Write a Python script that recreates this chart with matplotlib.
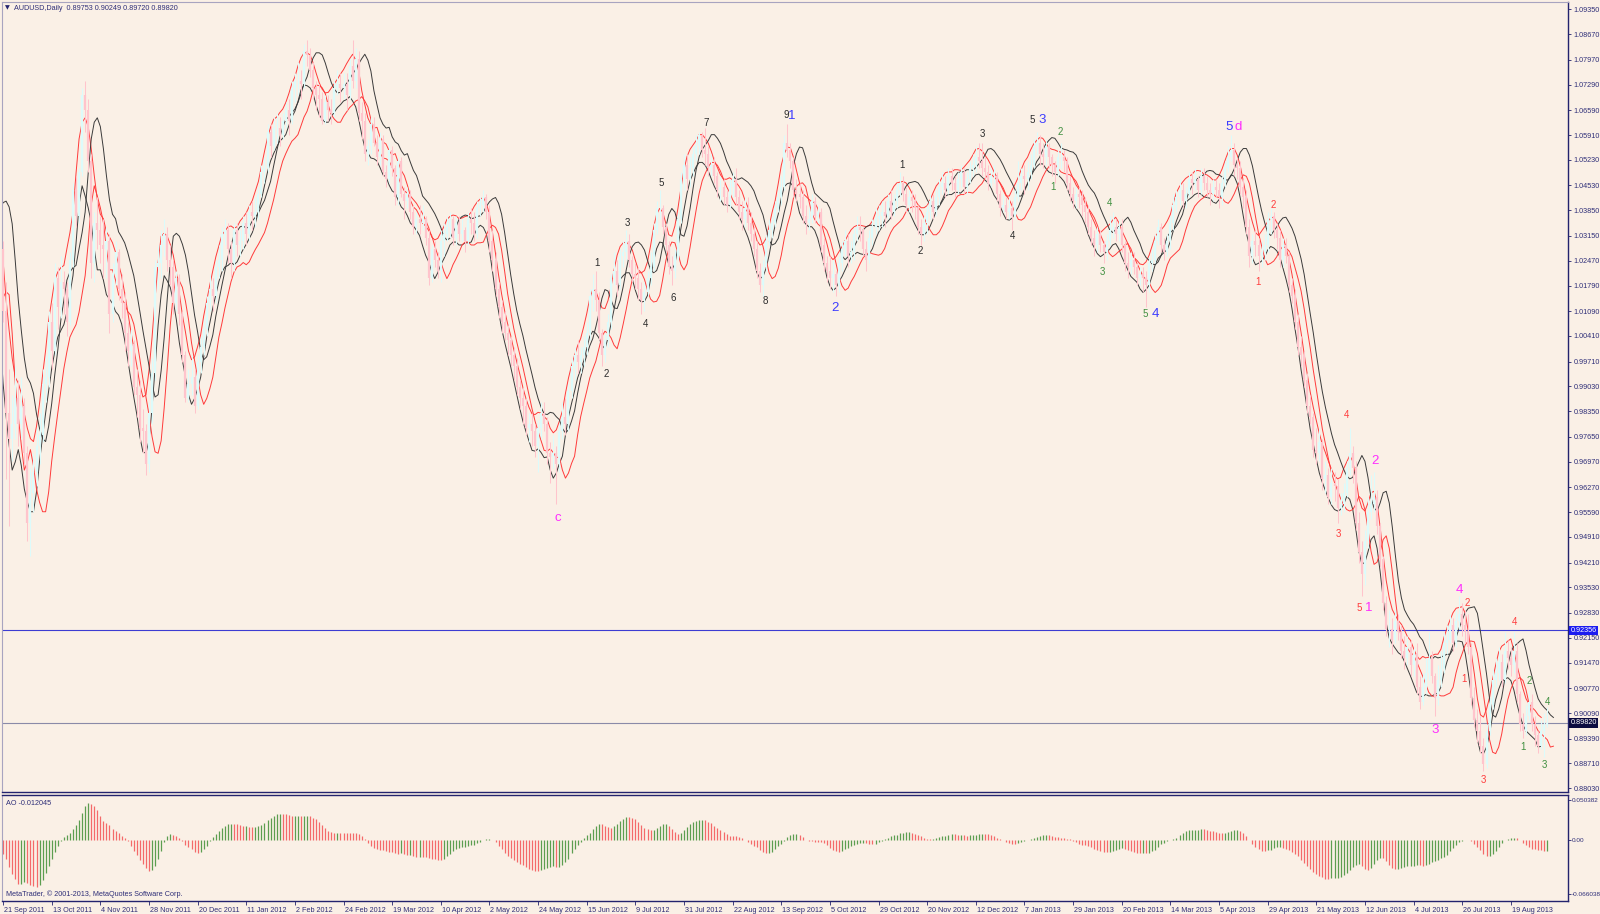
import numpy as np
import pandas as pd
import matplotlib
matplotlib.use("Agg")
import matplotlib.pyplot as plt
import matplotlib.transforms as mtransforms

# AUDUSD daily bars, prices in pips (x 0.0001)
# first 34 bars (4 Aug - 20 Sep 2011) are off screen, the AO and the averages need them
n_pre = 34

close = [
    10430, 10390, 10240, 10350, 10200, 10330, 10400, 10480, 10470, 10530, 10420, 10450, 10470, 10560, 10490, 10480, 10600,
    10650, 10660, 10720, 10640, 10620, 10560, 10600, 10660, 10580, 10290, 10230, 10300, 10340, 10390, 10410, 10330, 10280,
    # 21 Sep 2011 ->
    10110, 9830, 9760, 9800, 9870, 9800, 9850, 9720, 9530, 9610, 9670, 9740, 9770, 9910, 9930, 10080,
    10000, 10200, 10120, 10190, 10170, 10080, 10250, 10440, 10370, 10490, 10700, 10660, 10520, 10240, 10350, 10330,
    10290, 10280, 10300, 10100, 10210, 10270, 10170, 10130, 10050, 10000, 10020, 9900, 9880, 9790, 9780, 9690,
    9830, 9940, 10230, 10240, 10290, 10320, 10250, 10230, 10130, 10200, 10100, 9990, 9870, 9910, 9930, 9850,
    9970, 10010, 10060, 10130, 10170, 10150, 10230, 10250, 10320, 10330, 10280, 10240, 10330, 10290, 10300, 10350,
    10320, 10380, 10370, 10380, 10430, 10490, 10500, 10600, 10560, 10610, 10610, 10590, 10630, 10660, 10630, 10720,
    10740, 10740, 10730, 10820, 10810, 10770, 10720, 10700, 10690, 10630, 10680, 10660, 10650, 10720, 10730, 10720,
    10730, 10700, 10780, 10740, 10800, 10650, 10630, 10540, 10560, 10620, 10570, 10530, 10580, 10490, 10470, 10550,
    10500, 10420, 10520, 10430, 10410, 10430, 10380, 10340, 10360, 10350, 10360, 10310, 10200, 10280, 10250, 10220,
    10300, 10320, 10340, 10360, 10310, 10350, 10320, 10330, 10300, 10360, 10350, 10320, 10390, 10400, 10420, 10380,
    10300, 10250, 10170, 10120, 10080, 10050, 10030, 9990, 9960, 9900, 9870, 9850, 9790, 9800, 9780, 9740,
    9790, 9830, 9800, 9720, 9710, 9720, 9690, 9780, 9820, 9800, 9890, 9960, 9990, 9970, 9990, 10010,
    10050, 10150, 10170, 10140, 10050, 9990, 10030, 10080, 10200, 10220, 10180, 10260, 10270, 10300, 10250, 10210,
    10200, 10170, 10140, 10160, 10200, 10230, 10330, 10390, 10390, 10340, 10290, 10230, 10220, 10260, 10360, 10470,
    10510, 10470, 10500, 10540, 10560, 10590, 10550, 10540, 10500, 10510, 10480, 10440, 10450, 10420, 10400, 10450,
    10470, 10420, 10380, 10360, 10390, 10350, 10320, 10280, 10220, 10180, 10230, 10300, 10330, 10350, 10390, 10420,
    10450, 10570, 10550, 10520, 10440, 10430, 10420, 10370, 10350, 10360, 10410, 10370, 10380, 10290, 10240, 10220,
    10200, 10210, 10180, 10240, 10280, 10300, 10260, 10270, 10320, 10340, 10330, 10280, 10250, 10310, 10340, 10360,
    10370, 10380, 10370, 10410, 10380, 10410, 10440, 10460, 10430, 10400, 10420, 10410, 10390, 10340, 10320, 10350,
    10380, 10410, 10380, 10420, 10450, 10460, 10440, 10480, 10460, 10440, 10470, 10490, 10450, 10470, 10500, 10510,
    10530, 10520, 10500, 10490, 10460, 10480, 10480, 10430, 10390, 10400, 10380, 10390, 10370, 10420, 10460, 10480,
    10470, 10490, 10510, 10560, 10570, 10540, 10530, 10560, 10530, 10510, 10490, 10530, 10530, 10520, 10460, 10430,
    10410, 10430, 10420, 10400, 10380, 10340, 10310, 10290, 10320, 10290, 10270, 10300, 10330, 10340, 10320, 10340,
    10290, 10240, 10230, 10250, 10230, 10200, 10210, 10200, 10180, 10240, 10250, 10300, 10340, 10290, 10270, 10300,
    10350, 10400, 10420, 10440, 10410, 10430, 10470, 10460, 10470, 10440, 10480, 10460, 10440, 10430, 10450, 10440,
    10420, 10460, 10500, 10530, 10550, 10510, 10500, 10450, 10420, 10340, 10260, 10300, 10290, 10260, 10270, 10290,
    10360, 10370, 10330, 10310, 10250, 10290, 10260, 10180, 10150, 10080, 10010, 9990, 9920, 9850, 9820, 9730,
    9720, 9750, 9650, 9660, 9600, 9640, 9630, 9570, 9580, 9610, 9680, 9720, 9680, 9530, 9450, 9390,
    9480, 9560, 9580, 9600, 9520, 9430, 9310, 9240, 9240, 9210, 9260, 9230, 9180, 9160, 9190, 9140,
    9170, 9080, 9040, 9080, 9120, 9160, 9110, 9050, 9100, 9130, 9200, 9210, 9250, 9200, 9260, 9280,
    9250, 9230, 9190, 9050, 8990, 8960, 8920, 8870, 8960, 9030, 9100, 9120, 9150, 9100, 9180, 9160,
    9140, 9180, 9060, 8980, 8960, 9000, 9040, 8980, 8950, 8920, 8960, 8975, 8982,
]

high = [
    10620, 10520, 10420, 10390, 10410, 10360, 10440, 10510, 10540, 10590, 10550, 10490, 10520, 10600, 10590, 10560, 10630,
    10690, 10700, 10760, 10750, 10690, 10640, 10620, 10700, 10710, 10600, 10310, 10360, 10380, 10420, 10450, 10420, 10380,
    10300, 10190, 9950, 9880, 9960, 9920, 9930, 9870, 9740, 9680, 9720, 9790, 9830, 9950, 9990, 10110,
    10130, 10240, 10230, 10260, 10220, 10190, 10270, 10460, 10480, 10500, 10720, 10740, 10690, 10540, 10380, 10420,
    10370, 10360, 10340, 10320, 10240, 10300, 10280, 10210, 10160, 10080, 10060, 10030, 9950, 9920, 9840, 9800,
    9860, 9980, 10250, 10290, 10330, 10360, 10340, 10290, 10250, 10220, 10210, 10110, 10000, 9950, 9990, 9950,
    9990, 10040, 10090, 10150, 10210, 10200, 10250, 10290, 10340, 10360, 10350, 10300, 10350, 10350, 10330, 10370,
    10380, 10400, 10410, 10420, 10450, 10510, 10530, 10620, 10620, 10640, 10650, 10640, 10650, 10680, 10690, 10740,
    10760, 10790, 10770, 10840, 10850, 10830, 10790, 10740, 10730, 10710, 10700, 10700, 10690, 10740, 10770, 10760,
    10760, 10760, 10800, 10850, 10830, 10820, 10680, 10650, 10580, 10640, 10640, 10590, 10600, 10590, 10510, 10570,
    10560, 10510, 10530, 10530, 10450, 10450, 10440, 10400, 10380, 10400, 10400, 10370, 10330, 10290, 10300, 10270,
    10330, 10350, 10370, 10380, 10370, 10370, 10370, 10360, 10340, 10380, 10390, 10380, 10410, 10420, 10440, 10430,
    10400, 10330, 10270, 10190, 10140, 10110, 10070, 10040, 10010, 9980, 9920, 9900, 9870, 9830, 9830, 9800,
    9810, 9860, 9860, 9820, 9750, 9770, 9740, 9800, 9860, 9870, 9910, 9980, 10010, 10030, 10010, 10040,
    10080, 10170, 10210, 10220, 10160, 10060, 10050, 10100, 10210, 10270, 10250, 10280, 10300, 10330, 10320, 10260,
    10240, 10230, 10190, 10190, 10220, 10270, 10350, 10410, 10440, 10400, 10350, 10300, 10260, 10280, 10380, 10490,
    10540, 10540, 10530, 10560, 10590, 10600, 10600, 10610, 10560, 10540, 10530, 10490, 10480, 10470, 10440, 10470,
    10490, 10500, 10440, 10410, 10420, 10420, 10380, 10340, 10300, 10240, 10250, 10320, 10360, 10370, 10410, 10440,
    10480, 10590, 10620, 10570, 10530, 10470, 10460, 10440, 10400, 10390, 10430, 10420, 10400, 10390, 10310, 10260,
    10260, 10250, 10220, 10260, 10300, 10330, 10320, 10300, 10340, 10370, 10370, 10340, 10300, 10330, 10360, 10390,
    10400, 10410, 10410, 10430, 10440, 10430, 10460, 10490, 10480, 10450, 10440, 10440, 10430, 10400, 10360, 10370,
    10400, 10430, 10430, 10440, 10470, 10490, 10480, 10500, 10500, 10480, 10490, 10510, 10500, 10490, 10520, 10540,
    10560, 10570, 10570, 10530, 10510, 10500, 10510, 10490, 10440, 10430, 10420, 10420, 10410, 10440, 10520, 10500,
    10510, 10520, 10540, 10580, 10600, 10590, 10570, 10580, 10570, 10540, 10520, 10550, 10570, 10550, 10530, 10480,
    10450, 10450, 10450, 10440, 10420, 10400, 10360, 10330, 10340, 10330, 10300, 10320, 10370, 10380, 10360, 10360,
    10360, 10300, 10270, 10270, 10270, 10240, 10230, 10230, 10220, 10260, 10280, 10320, 10360, 10350, 10310, 10320,
    10370, 10430, 10440, 10470, 10460, 10450, 10490, 10490, 10500, 10480, 10500, 10500, 10480, 10460, 10470, 10470,
    10460, 10480, 10520, 10560, 10590, 10570, 10530, 10520, 10470, 10440, 10360, 10320, 10330, 10310, 10300, 10320,
    10380, 10390, 10380, 10350, 10330, 10310, 10310, 10270, 10200, 10170, 10100, 10040, 10000, 9940, 9880, 9830,
    9790, 9790, 9760, 9700, 9680, 9680, 9670, 9650, 9610, 9640, 9700, 9790, 9740, 9700, 9560, 9480,
    9510, 9600, 9660, 9670, 9620, 9530, 9440, 9330, 9290, 9270, 9290, 9280, 9250, 9220, 9220, 9210,
    9190, 9200, 9110, 9120, 9160, 9230, 9180, 9120, 9140, 9180, 9230, 9250, 9280, 9270, 9290, 9330,
    9310, 9290, 9280, 9200, 9080, 9020, 9000, 8940, 8980, 9050, 9130, 9160, 9190, 9170, 9230, 9210,
    9190, 9230, 9200, 9070, 9010, 9030, 9070, 9060, 9000, 8960, 8990, 9010, 9025,
]

low = [
    10400, 10330, 10180, 10050, 10170, 10150, 10290, 10380, 10420, 10450, 10340, 10360, 10410, 10440, 10460, 10440, 10400,
    10580, 10600, 10640, 10620, 10560, 10500, 10420, 10580, 10550, 10270, 10120, 10080, 10120, 10180, 10200, 10150, 10160,
    10080, 9650, 9520, 9700, 9760, 9740, 9760, 9690, 9480, 9440, 9560, 9630, 9690, 9750, 9860, 9900,
    9950, 9990, 10060, 10090, 10100, 10040, 10070, 10230, 10340, 10350, 10480, 10600, 10490, 10200, 10190, 10280,
    10240, 10200, 10200, 10050, 10080, 10180, 10140, 10090, 10000, 9960, 9960, 9880, 9820, 9750, 9720, 9660,
    9670, 9800, 9920, 10170, 10200, 10260, 10220, 10180, 10100, 10110, 10070, 9970, 9860, 9860, 9880, 9830,
    9840, 9940, 9990, 10040, 10110, 10110, 10130, 10200, 10220, 10290, 10240, 10200, 10220, 10260, 10260, 10280,
    10290, 10300, 10330, 10340, 10360, 10420, 10460, 10490, 10530, 10550, 10570, 10560, 10580, 10610, 10590, 10620,
    10680, 10700, 10690, 10720, 10780, 10750, 10690, 10660, 10640, 10620, 10620, 10630, 10620, 10640, 10700, 10680,
    10690, 10660, 10690, 10720, 10720, 10630, 10580, 10520, 10510, 10540, 10560, 10510, 10510, 10480, 10450, 10460,
    10480, 10400, 10400, 10420, 10360, 10390, 10360, 10320, 10320, 10320, 10330, 10290, 10180, 10190, 10230, 10200,
    10190, 10260, 10300, 10310, 10290, 10290, 10300, 10300, 10270, 10290, 10320, 10300, 10310, 10370, 10380, 10360,
    10270, 10220, 10150, 10090, 10050, 10030, 9990, 9960, 9920, 9880, 9840, 9800, 9770, 9750, 9740, 9710,
    9670, 9760, 9780, 9690, 9640, 9680, 9580, 9670, 9760, 9770, 9780, 9870, 9920, 9940, 9940, 9960,
    9990, 10030, 10110, 10110, 10030, 9960, 9970, 10010, 10060, 10180, 10150, 10170, 10230, 10250, 10230, 10190,
    10170, 10140, 10100, 10110, 10150, 10180, 10220, 10320, 10360, 10320, 10270, 10210, 10180, 10200, 10250, 10350,
    10440, 10440, 10450, 10480, 10520, 10540, 10530, 10510, 10480, 10480, 10460, 10420, 10410, 10400, 10380, 10390,
    10420, 10400, 10360, 10330, 10340, 10330, 10300, 10260, 10200, 10160, 10150, 10220, 10290, 10310, 10340, 10380,
    10400, 10440, 10530, 10500, 10420, 10410, 10390, 10350, 10320, 10330, 10350, 10350, 10350, 10270, 10220, 10190,
    10170, 10160, 10150, 10160, 10220, 10260, 10230, 10240, 10250, 10300, 10300, 10260, 10220, 10240, 10290, 10320,
    10330, 10340, 10340, 10360, 10360, 10370, 10390, 10420, 10410, 10380, 10380, 10380, 10360, 10320, 10290, 10300,
    10320, 10360, 10360, 10370, 10400, 10430, 10420, 10430, 10440, 10420, 10430, 10450, 10430, 10430, 10460, 10480,
    10490, 10500, 10480, 10470, 10440, 10450, 10460, 10410, 10370, 10380, 10360, 10360, 10330, 10360, 10410, 10440,
    10430, 10440, 10470, 10500, 10540, 10510, 10500, 10510, 10500, 10480, 10460, 10480, 10500, 10490, 10440, 10410,
    10390, 10390, 10390, 10370, 10350, 10320, 10290, 10260, 10270, 10270, 10240, 10250, 10290, 10310, 10300, 10300,
    10270, 10220, 10200, 10210, 10210, 10180, 10180, 10160, 10120, 10160, 10220, 10240, 10290, 10270, 10250, 10260,
    10280, 10330, 10380, 10400, 10390, 10390, 10420, 10430, 10440, 10420, 10430, 10440, 10420, 10400, 10410, 10420,
    10390, 10400, 10450, 10490, 10520, 10480, 10470, 10430, 10390, 10320, 10230, 10240, 10260, 10220, 10230, 10250,
    10270, 10320, 10310, 10280, 10230, 10230, 10240, 10160, 10130, 10060, 9990, 9960, 9900, 9830, 9800, 9710,
    9690, 9700, 9620, 9610, 9580, 9580, 9590, 9530, 9550, 9560, 9600, 9660, 9640, 9510, 9420, 9330,
    9360, 9460, 9540, 9560, 9500, 9410, 9290, 9220, 9190, 9170, 9200, 9210, 9160, 9130, 9140, 9110,
    9110, 9060, 9020, 9030, 9060, 9100, 9090, 9000, 9030, 9080, 9120, 9170, 9200, 9180, 9190, 9240,
    9220, 9200, 9170, 9030, 8970, 8930, 8900, 8850, 8860, 8950, 9020, 9080, 9100, 9080, 9090, 9130,
    9110, 9120, 9040, 8960, 8940, 8950, 8990, 8960, 8920, 8900, 8910, 8890, 8972,
]

date_labels = ["21 Sep 2011", "13 Oct 2011", "4 Nov 2011", "28 Nov 2011", "20 Dec 2011", "11 Jan 2012",
               "2 Feb 2012", "24 Feb 2012", "19 Mar 2012", "10 Apr 2012", "2 May 2012", "24 May 2012",
               "15 Jun 2012", "9 Jul 2012", "31 Jul 2012", "22 Aug 2012", "13 Sep 2012", "5 Oct 2012",
               "29 Oct 2012", "20 Nov 2012", "12 Dec 2012", "7 Jan 2013", "29 Jan 2013", "20 Feb 2013",
               "14 Mar 2013", "5 Apr 2013", "29 Apr 2013", "21 May 2013", "12 Jun 2013", "4 Jul 2013",
               "26 Jul 2013", "19 Aug 2013"]
bars_per_label = 16

price_labels = ["1.09350", "1.08670", "1.07970", "1.07290", "1.06590", "1.05910", "1.05230", "1.04530",
                "1.03850", "1.03150", "1.02470", "1.01790", "1.01090", "1.00410", "0.99710", "0.99030",
                "0.98350", "0.97650", "0.96970", "0.96270", "0.95590", "0.94910", "0.94210", "0.93530",
                "0.92830", "0.92150", "0.91470", "0.90770", "0.90090", "0.89390", "0.88710", "0.88030"]
ao_labels = ["0.050382", "0.00", "-0.066038"]

hline_blue = 0.92356
hline_bid = 0.89820

# wave counts: (bar, price, text)
wave_black = [(195.4, 1.0242, "1"), (198.4, 0.9938, "2"), (205.5, 1.0351, "3"), (211.2, 1.0075, "4"),
              (216.5, 1.0460, "5"), (220.6, 1.0145, "6"), (231.3, 1.0625, "7"), (250.8, 1.0136, "8"),
              (257.5, 1.0647, "9"), (295.8, 1.0508, "1"), (301.8, 1.0273, "2"), (322.0, 1.0594, "3"),
              (332.0, 1.0315, "4"), (338.7, 1.0633, "5")]
wave_blue = [(259.5, 1.0644, "1"), (273.6, 1.0117, "2"), (341.8, 1.0633, "3"), (379.0, 1.0100, "4"),
             (403.2, 1.0614, "5")]
wave_magenta = [(182.6, 0.9544, "c"), (406.2, 1.0614, "d"), (449.2, 0.9296, "1"), (451.2, 0.9698, "2"),
                (471.0, 0.8964, "3"), (479.1, 0.9346, "4")]
wave_red = [(412.9, 1.0189, "1"), (418.0, 1.0399, "2"), (439.1, 0.9500, "3"), (442.1, 0.9824, "4"),
            (446.2, 0.9296, "5"), (480.7, 0.9103, "1"), (481.7, 0.9310, "2"), (487.1, 0.8827, "3"),
            (497.2, 0.9257, "4")]
wave_green = [(345.4, 1.0449, "1"), (347.8, 1.0600, "2"), (361.6, 1.0217, "3"), (364.0, 1.0404, "4"),
              (375.7, 1.0100, "5"), (499.9, 0.8916, "1"), (502.2, 0.9098, "2"), (506.9, 0.8866, "3"),
              (508.0, 0.9039, "4")]

# ---------------------------------------------------------------
assert len(close) == len(high) == len(low)
c = np.array(close) / 1e4
h = np.array(high) / 1e4
l = np.array(low) / 1e4
o = np.r_[c[0], c[:-1]]          # open = previous close
x = np.arange(len(c)) - n_pre
vis = x >= 0

mh = pd.Series(h).rolling(5).mean().to_numpy()
ml = pd.Series(l).rolling(5).mean().to_numpy()
med = pd.Series((h + l) / 2)
ao = (med.rolling(5).mean() - med.rolling(34).mean()).to_numpy()
ao_up = np.r_[False, ao[1:] > ao[:-1]]

BG = "#faf0e6"
NAVY = "#23236e"
TXT = "#2e2e78"
FONT = ["Liberation Sans", "DejaVu Sans"]
plt.rcParams["font.family"] = FONT

W, H = 1600, 914
fig = plt.figure(figsize=(W / 100, H / 100), dpi=100, facecolor=BG)
ax = fig.add_axes([2 / W, 1 - 792 / H, 1566 / W, 790 / H], facecolor=BG)
ax_ao = fig.add_axes([2 / W, 1 - 901 / H, 1566 / W, 106 / H], facecolor=BG)

xlim = (-0.35, 514.8)

# moving-average bands, leading (shift -2) and lagging (shift +2)
ax.plot(x - 2, mh, color="#ff3a3a", lw=0.7, zorder=2)
ax.plot(x + 2, mh, color="#3a3a3a", lw=0.7, zorder=2)
ax.plot(x - 2, ml, color="#3a3a3a", lw=0.7, zorder=2)
ax.plot(x + 2, ml, color="#ff3a3a", lw=0.7, zorder=2)

# candles
up = c >= o
for m, col in ((vis & up, "#dcfbfb"), (vis & ~up, "#ffc4cc")):
    ax.vlines(x[m], l[m], h[m], color=col, lw=0.75, zorder=3)
    ax.vlines(x[m], np.minimum(o, c)[m], np.maximum(o, c)[m], color=col, lw=1.6, zorder=3)

ax.axhline(hline_blue, color="#3c3cd2", lw=0.8, zorder=1)
ax.axhline(hline_bid, color="#8a8aa8", lw=0.8, zorder=1)

for data, col, size in ((wave_black, "#2b2b2b", 7), (wave_red, "#ff3c3c", 7), (wave_green, "#3f8f3f", 7),
                        (wave_blue, "#3c3cff", 9.5), (wave_magenta, "#ff2cff", 9.5)):
    for bx, py, t in data:
        ax.text(bx, py, t, color=col, fontsize=size, ha="center", va="center", zorder=4)

ax.set_xlim(*xlim)
ax.set_ylim(0.8793, 1.0955)
ax.set_xticks([])
ax.yaxis.tick_right()
ax.set_yticks([float(s) for s in price_labels], price_labels)
ax.tick_params(axis="y", direction="out", length=2.5, width=0.6, color=NAVY,
               labelcolor=TXT, labelsize=5.2, pad=1.5)

trans = mtransforms.blended_transform_factory(ax.transAxes, ax.transData)
ax.text(1.0015, hline_blue, f"{hline_blue:.5f}", transform=trans, color="white", fontsize=5.2,
        va="center", ha="left", clip_on=False, zorder=6,
        bbox=dict(boxstyle="square,pad=0.15", fc="#1c1cf0", ec="none"))
ax.text(1.0015, hline_bid, f"{hline_bid:.5f}", transform=trans, color="white", fontsize=5.2,
        va="center", ha="left", clip_on=False, zorder=6,
        bbox=dict(boxstyle="square,pad=0.15", fc="#0c0c40", ec="none"))

ax.text(0.0022, 0.9955, "\u25bc", transform=ax.transAxes, fontsize=4.5, color=NAVY, va="top",
        family=["DejaVu Sans"])
ax.text(0.0078, 0.9958, "AUDUSD,Daily  0.89753 0.90249 0.89720 0.89820", transform=ax.transAxes,
        fontsize=5.2, color=TXT, va="top")

# Awesome Oscillator
ax_ao.vlines(x[vis], 0, ao[vis], colors=np.where(ao_up[vis], "#5c9e50", "#f46a6a"), lw=0.9)
ax_ao.set_xlim(*xlim)
ax_ao.set_ylim(-0.075, 0.0563)
ax_ao.yaxis.tick_right()
ax_ao.set_yticks([float(s) for s in ao_labels], ao_labels)
ax_ao.tick_params(axis="y", direction="out", length=2.0, width=0.6, color=NAVY,
                  labelcolor=TXT, labelsize=4.6, pad=1.0)
ax_ao.set_xticks(np.arange(len(date_labels)) * bars_per_label, date_labels)
ax_ao.tick_params(axis="x", direction="out", length=3, width=0.6, color=NAVY,
                  labelcolor=TXT, labelsize=5.2, pad=1)
shift = mtransforms.ScaledTranslation(1 / 100, 0, fig.dpi_scale_trans)
for lab in ax_ao.get_xticklabels():
    lab.set_horizontalalignment("left")
    lab.set_transform(lab.get_transform() + shift)

ax_ao.text(0.0025, 0.955, "AO -0.012045", transform=ax_ao.transAxes, fontsize=5.2, color=TXT, va="top")
ax_ao.text(0.0025, 0.03, "MetaTrader, \u00a9 2001-2013, MetaQuotes Software Corp.", transform=ax_ao.transAxes,
           fontsize=5.2, color=TXT, va="bottom")

for a in (ax, ax_ao):
    for side in ("right", "bottom"):
        a.spines[side].set_color(NAVY)
        a.spines[side].set_linewidth(1.0)
    a.spines["left"].set_color("#a8a4c0")
    a.spines["left"].set_linewidth(0.8)
ax.spines["top"].set_color("#a8a4c0")
ax.spines["top"].set_linewidth(0.8)
ax_ao.spines["top"].set_color(NAVY)
ax_ao.spines["top"].set_linewidth(1.0)

fig.savefig("out.png", dpi=100, facecolor=BG)
